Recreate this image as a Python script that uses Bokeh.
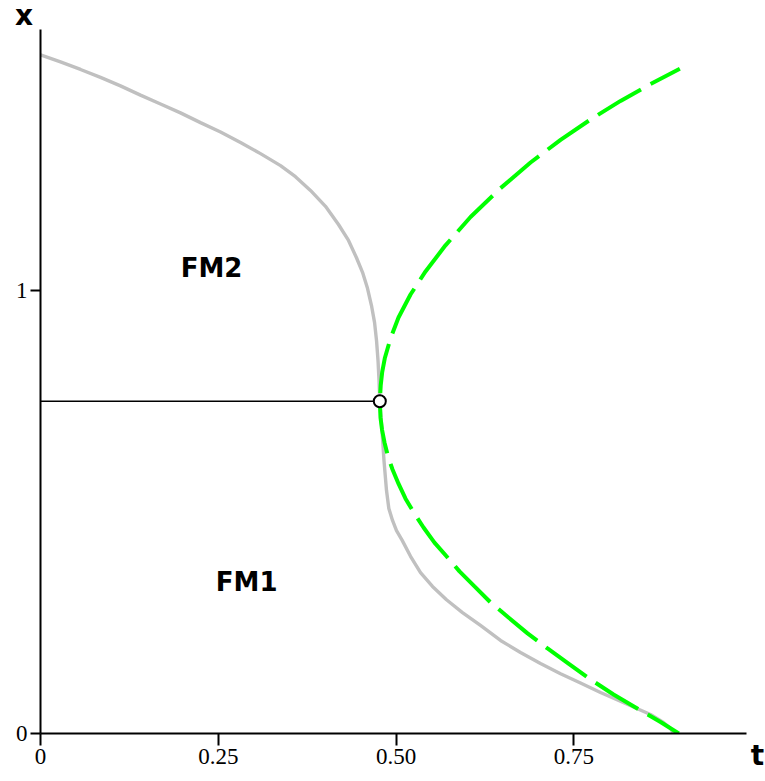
from bokeh.plotting import figure
from bokeh.models import Range1d, FixedTicker, Label
from bokeh.embed import file_html
from bokeh.resources import INLINE

# gray boundary curve (t, x)
gray_t = [0.0, 0.0281, 0.0563, 0.0844, 0.1125, 0.1406, 0.1688, 0.1969, 0.2250, 0.2532,
          0.2813, 0.3094, 0.3376, 0.3586, 0.3797, 0.4008, 0.4191, 0.4332, 0.4444, 0.4529,
          0.4599, 0.4655, 0.4698, 0.4726, 0.4747, 0.4761, 0.4772, 0.4803, 0.4831, 0.4866,
          0.4899, 0.4951, 0.5007, 0.5087, 0.5204, 0.5345, 0.5513, 0.5710, 0.5935, 0.6188,
          0.6470, 0.6751, 0.7032, 0.7314, 0.7595, 0.7876, 0.8228, 0.8579, 0.8762, 0.8861,
          0.8903]
gray_x = [1.532, 1.516, 1.499, 1.481, 1.462, 1.441, 1.421, 1.401, 1.379, 1.358,
          1.334, 1.309, 1.282, 1.257, 1.226, 1.190, 1.149, 1.113, 1.074, 1.041,
          1.005, 0.966, 0.928, 0.887, 0.842, 0.797, 0.750, 0.684, 0.616, 0.549,
          0.508, 0.481, 0.458, 0.436, 0.400, 0.363, 0.332, 0.302, 0.273, 0.244,
          0.210, 0.183, 0.158, 0.135, 0.114, 0.0926, 0.0677, 0.0429, 0.0248, 0.0113,
          0.0]

# green dashed curve (t, x)
green_t = [0.8992, 0.8579, 0.8158, 0.7736, 0.7314, 0.6892, 0.6470, 0.6048, 0.5696, 0.5415,
           0.5204, 0.5035, 0.4923, 0.4842, 0.4805, 0.4785, 0.4772, 0.4782, 0.4803, 0.4838,
           0.4888, 0.4951, 0.5035, 0.5134, 0.5250, 0.5387, 0.5541, 0.5710, 0.5893, 0.6104,
           0.6329, 0.6582, 0.6850, 0.7131, 0.7426, 0.7736, 0.8059, 0.8439, 0.8720, 0.8977]
green_x = [1.5005, 1.466, 1.428, 1.386, 1.340, 1.289, 1.231, 1.166, 1.102, 1.043,
           0.991, 0.939, 0.892, 0.847, 0.815, 0.786, 0.750, 0.713, 0.686, 0.657,
           0.625, 0.596, 0.564, 0.530, 0.499, 0.465, 0.431, 0.400, 0.366, 0.332,
           0.296, 0.262, 0.226, 0.192, 0.158, 0.122, 0.088, 0.052, 0.026, 0.0]

# marked point and its horizontal guide
pt_t = [0.4772]
pt_x = [0.750]
guide_t = [0.0, 0.4772]
guide_x = [0.750, 0.750]

x_ticks = [0, 0.25, 0.5, 0.75]
x_tick_labels = ["0", "0.25", "0.50", "0.75"]
y_ticks = [0, 1]
y_tick_labels = ["0", "1"]
x_axis_end = 0.993
y_axis_end = 1.589

regions = ["FM2", "FM1"]
region_t = [0.2405, 0.290]
region_x = [1.050, 0.341]

p = figure(width=765, height=781, x_range=Range1d(0, 1.0084), y_range=Range1d(0, 1.6208),
           output_backend="svg", toolbar_location=None,
           min_border_left=40, min_border_right=8, min_border_top=15, min_border_bottom=48)
p.outline_line_color = None
p.xgrid.visible = False
p.ygrid.visible = False
p.background_fill_color = "white"
p.border_fill_color = "white"

for ax, ticks, labels, end in ((p.xaxis[0], x_ticks, x_tick_labels, x_axis_end),
                               (p.yaxis[0], y_ticks, y_tick_labels, y_axis_end)):
    ax.ticker = FixedTicker(ticks=ticks)
    ax.bounds = (0, end)
    ax.major_label_overrides = {t: l for t, l in zip(ticks, labels)}
    ax.minor_tick_line_color = None
    ax.major_tick_in = 0
    ax.major_tick_line_width = 2
    ax.axis_line_width = 2
    ax.axis_line_color = "black"
    ax.major_tick_line_color = "black"
    ax.major_label_text_font = "Liberation Serif"
    ax.major_label_text_font_size = "23px"
    ax.major_label_text_color = "black"
    ax.major_label_standoff = 3
    ax.axis_label_text_font = "DejaVu Sans"
    ax.axis_label_text_font_style = "bold"
    ax.axis_label_text_font_size = "28px"
    ax.axis_label_text_color = "black"
    try:
        ax.axis_label_align = "end"
    except Exception:
        pass

p.xaxis[0].major_tick_out = 12
p.yaxis[0].major_tick_out = 10
p.xaxis[0].axis_label = "t"
p.xaxis[0].axis_label_standoff = -28
p.yaxis[0].axis_label = "x"
p.yaxis[0].axis_label_orientation = "horizontal"
p.yaxis[0].axis_label_standoff = -20

p.line(gray_t, gray_x, line_color="#c0c0c0", line_width=3.4)
p.line(guide_t, guide_x, line_color="black", line_width=1.3)
p.line(green_t, green_x, line_color="#00ff00", line_width=4, line_dash="50 11",
       line_dash_offset=17)
p.scatter(pt_t, pt_x, marker="circle", size=12, fill_color="white", line_color="black",
          line_width=2)

for name, t, x in zip(regions, region_t, region_x):
    p.add_layout(Label(x=t, y=x, text=name, text_font="DejaVu Sans", text_font_style="bold",
                       text_font_size="26px", text_align="center", text_baseline="middle",
                       text_color="black"))

open("out.html", "w").write(file_html(p, INLINE))
